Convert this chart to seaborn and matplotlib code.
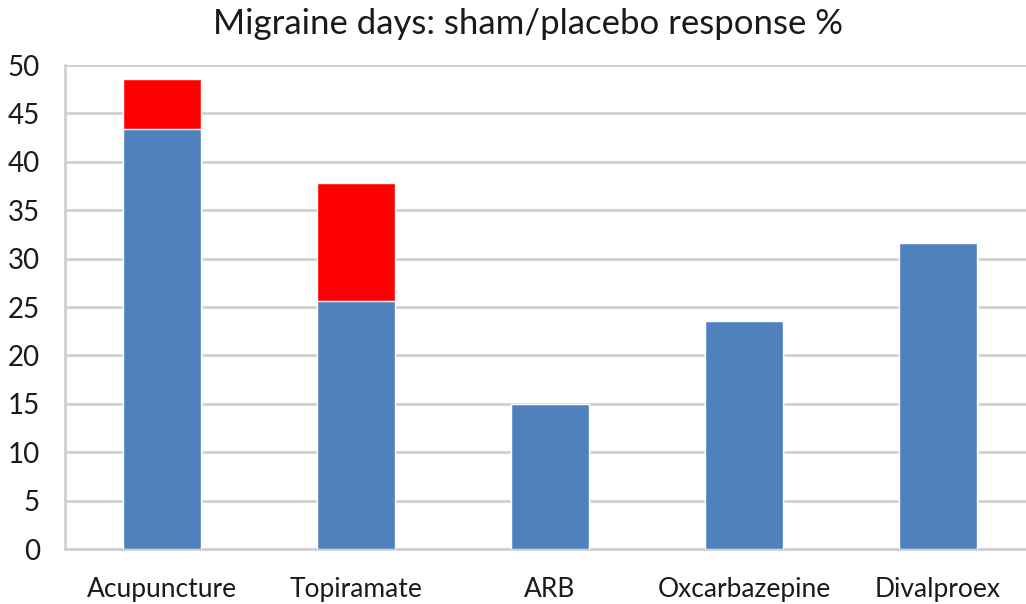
import numpy as np
import pandas as pd
import matplotlib
matplotlib.use("Agg")
import matplotlib.pyplot as plt
import seaborn as sns

treatments = ["Acupuncture", "Topiramate", "ARB", "Oxcarbazepine", "Divalproex"]
base_pct = [43.4, 25.6, 15.0, 23.6, 31.6]
extra_pct = [5.2, 12.2, 0.0, 0.0, 0.0]

df = pd.DataFrame({"treatment": treatments, "base": base_pct, "extra": extra_pct})
df["total"] = df["base"] + df["extra"]

sns.set_style("white")
plt.rcParams["font.family"] = ["Lato", "DejaVu Sans"]

grid_col = "#d0d0d0"
fig = plt.figure(figsize=(10.26, 6.04), dpi=100)
ax = fig.add_axes([65 / 1026, 55 / 604, 970 / 1026, 484 / 604])

sns.barplot(data=df, x="treatment", y="total", color="#ff0000", width=0.4,
            saturation=1, ax=ax, zorder=2)
sns.barplot(data=df, x="treatment", y="base", color="#4f81bd", width=0.4,
            saturation=1, ax=ax, zorder=3)

ax.set_xlim(-0.5, 4.5)
ax.set_ylim(0, 50)
ax.set_yticks(np.arange(0, 51, 5))
ax.yaxis.grid(True, color=grid_col, linewidth=2, zorder=0)
ax.set_axisbelow(True)
ax.set_xlabel("")
ax.set_ylabel("")

for side in ["top", "right"]:
    ax.spines[side].set_visible(False)
for side in ["left", "bottom"]:
    ax.spines[side].set_color(grid_col)
    ax.spines[side].set_linewidth(2)

ax.set_xticks(np.arange(-0.5, 5, 1), minor=True)
ax.tick_params(axis="x", which="major", length=0, pad=20, labelsize=19, labelcolor="#1a1a1a")
ax.tick_params(axis="x", which="minor", length=9, width=2, color=grid_col)
ax.tick_params(axis="y", length=10, width=2, color=grid_col, pad=8,
               labelsize=20, labelcolor="#1a1a1a")

fig.text(528 / 1026, 1 - 24 / 604, "Migraine days: sham/placebo response %",
         ha="center", va="center", fontsize=25, color="#1a1a1a")

fig.savefig("out.png", dpi=100)
